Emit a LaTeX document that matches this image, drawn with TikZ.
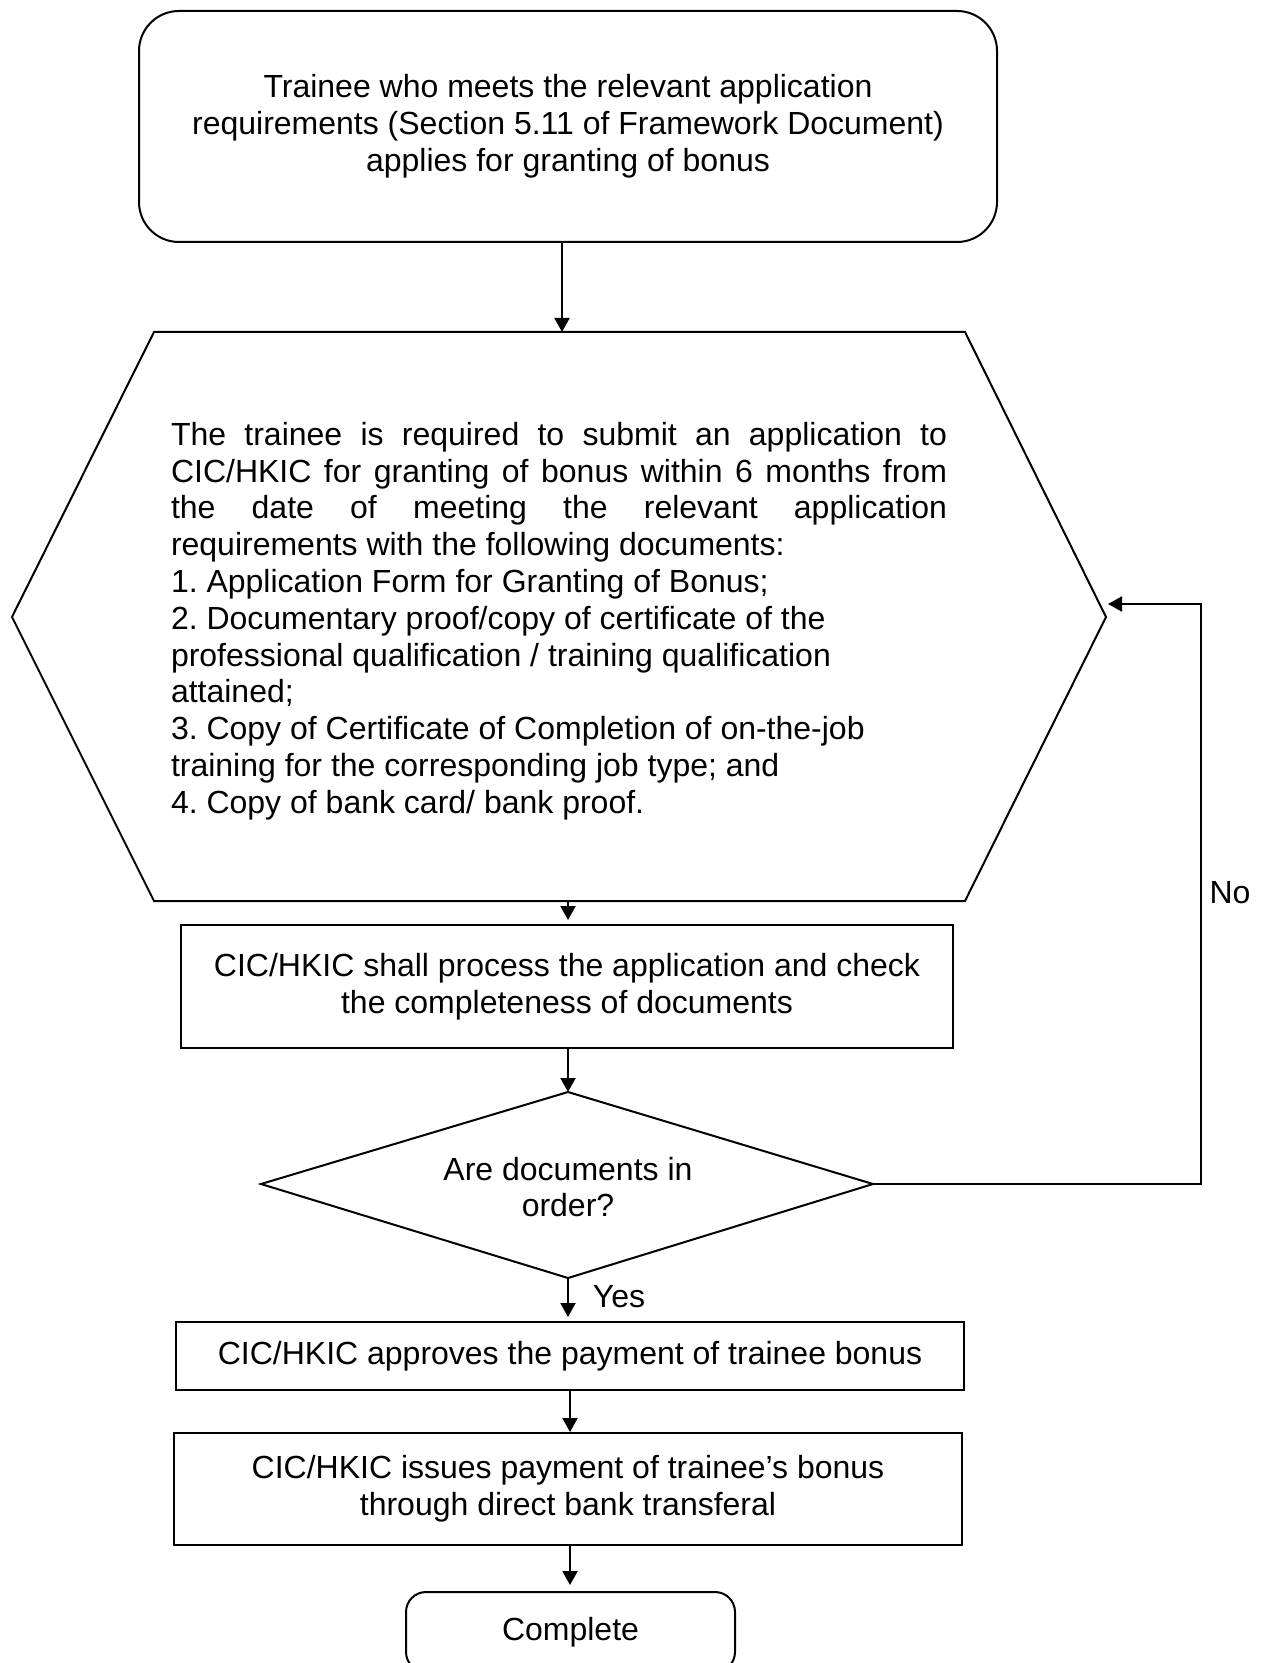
\documentclass[tikz,border=0pt]{standalone}
\usepackage{fontspec}
\setmainfont{Liberation Sans}
\usetikzlibrary{arrows.meta}
\begin{document}
\frenchspacing
\begin{tikzpicture}[x=0.5pt,y=-0.5pt,
  every node/.style={font=\fontsize{16}{18.4}\selectfont},
  shapeline/.style={line width=1pt},
  arr/.style={line width=1pt,-{Triangle[length=7pt,width=7.5pt]}},
  box/.style={draw,line width=1pt,align=center,inner sep=0pt},
  rbox/.style={box,rounded corners=20pt}]
\useasboundingbox[fill=white] (0,0) rectangle (1265,1663);

% top rounded box
\node[rbox,minimum width=429pt,minimum height=115.5pt] (start) at (568,126.5)
  {Trainee who meets the relevant application\\requirements (Section 5.11 of Framework Document)\\applies for granting of bonus};

% hexagon
\coordinate (hexT) at (562,332);
\coordinate (hexB) at (568,901);
\coordinate (hexR) at (1106,617);
\draw[shapeline,line join=miter] (154,332) -- (965,332) -- (hexR) -- (965,901) -- (154,901) -- (12,617) -- cycle;
\node[inner sep=0pt] (hextext) at (559,621)
  {\parbox{388pt}{\frenchspacing\parindent=0pt\parskip=0pt
   The trainee is required to submit an application to\linebreak
   CIC/HKIC for granting of bonus within 6 months from\linebreak
   the date of meeting the relevant application\linebreak
   requirements with the following documents:\par
   \raggedright
   1. Application Form for Granting of Bonus;\par
   2. Documentary proof/copy of certificate of the\newline
   professional qualification / training qualification\newline
   attained;\par
   3. Copy of Certificate of Completion of on-the-job\newline
   training for the corresponding job type; and\par
   4. Copy of bank card/ bank proof.}};

% process box
\node[box,minimum width=386pt,minimum height=61.5pt] (process) at (567,986.5)
  {CIC/HKIC shall process the application and check\\the completeness of documents};

% decision diamond
\coordinate (dT) at (568,1092);
\coordinate (dL) at (261,1184);
\coordinate (dR) at (873,1184);
\coordinate (dB) at (568,1278);
\draw[shapeline,line join=miter] (dT) -- (dR) -- (dB) -- (dL) -- cycle;
\node[align=center,inner sep=0pt] (dtext) at (568,1187) {Are documents in\\order?};

% approve box
\node[box,minimum width=394pt,minimum height=34pt] (approve) at (570,1356)
  {CIC/HKIC approves the payment of trainee bonus};

% pay box
\node[box,minimum width=394pt,minimum height=56pt] (pay) at (568,1489)
  {CIC/HKIC issues payment of trainee’s bonus\\through direct bank transferal};

% complete
\node[box,rounded corners=10pt,minimum width=164.5pt,minimum height=40pt] (done) at (570.5,1632)
  {Complete};

% connectors
\draw[arr] (hexT |- start.south) -- (hexT);
\draw[arr,shorten >=2pt] (hexB) -- (hexB |- process.north);
\draw[arr] (dT |- process.south) -- (dT);
\draw[arr,shorten >=2pt] (dB) -- (dB |- approve.north);
\coordinate (a2) at (570,0);
\draw[arr] (a2 |- approve.south) -- (a2 |- pay.north);
\draw[arr,shorten >=3pt] (a2 |- pay.south) -- (a2 |- done.north);

\coordinate (loop) at (1201,604);
\coordinate (hexIn) at (1108,604);
\draw[arr] (dR) -| (loop) -- (hexIn);
\node (no) at (1230,893) {No};
\node (yes) at (619,1297) {Yes};
\end{tikzpicture}
\end{document}
